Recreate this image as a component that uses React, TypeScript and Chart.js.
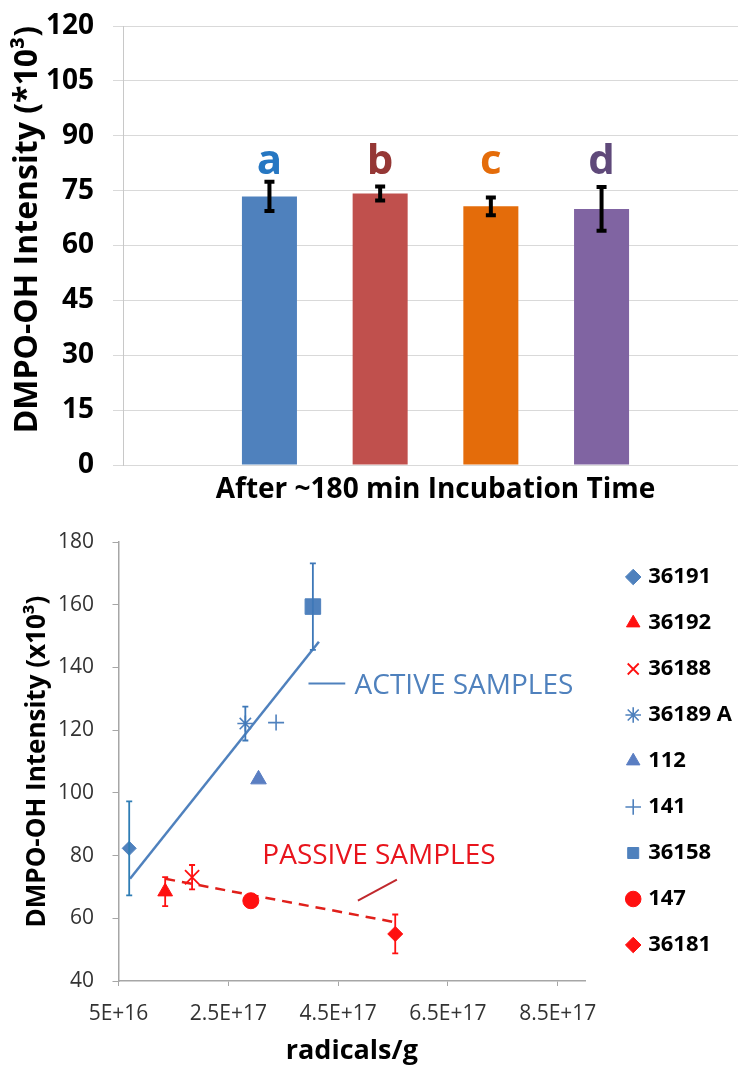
import React, { useEffect, useRef } from 'react';
import { Chart, registerables } from 'chart.js';

Chart.register(...registerables);
Chart.defaults.font.family = '"Open Sans", "DejaVu Sans", sans-serif';

// ---------- Top chart data ----------
const CATEGORY = ['After ~180 min Incubation Time'];
const GROUP_LETTERS = ['a', 'b', 'c', 'd'];
const BAR_VALUES = [73.4, 74.2, 70.7, 70.0];
const BAR_ERRORS = [4.0, 1.9, 2.4, 6.0];
const LETTER_LEVEL = 79.5;
const TOP_Y_MIN = 0;
const TOP_Y_MAX = 120;
const TOP_Y_STEP = 15;

const BAR_COLORS = ['#4F81BD', '#C0504D', '#E46C0A', '#8064A2'];
const LETTER_COLORS = ['#2677C2', '#953735', '#E46C0A', '#5F497A'];

// ---------- Bottom chart data ----------
const SAMPLE_NAMES = ['36191', '36192', '36188', '36189 A', '112', '141', '36158', '147', '36181'];
const SAMPLE_X = [6.95e16, 1.35e17, 1.84e17, 2.81e17, 3.05e17, 3.37e17, 4.04e17, 2.91e17, 5.54e17];
const SAMPLE_Y = [82.3, 68.5, 73.1, 122.1, 104.3, 122.4, 159.4, 65.6, 55.0];
const SAMPLE_ERR = [15.0, 4.6, 3.9, 5.4, 0, 0, 13.8, 0, 6.2];

const ACTIVE_TREND_X = [7.1e16, 4.15e17];
const ACTIVE_TREND_Y = [72.6, 148.2];
const PASSIVE_TREND_X = [1.35e17, 5.55e17];
const PASSIVE_TREND_Y = [72.6, 58.7];

const X_MIN = 5e16;
const X_MAX = 9e17;
const X_TICKS = [5e16, 2.5e17, 4.5e17, 6.5e17, 8.5e17];
const X_TICK_LABELS = ['5E+16', '2.5E+17', '4.5E+17', '6.5E+17', '8.5E+17'];
const Y_MIN = 40;
const Y_MAX = 180;
const Y_STEP = 20;

const ACTIVE_LABEL = { text: 'ACTIVE SAMPLES', x: 4.8e17, y: 134.1 };
const PASSIVE_LABEL = { text: 'PASSIVE SAMPLES', x: 3.12e17, y: 80 };
const ACTIVE_LEADER_X = [3.96e17, 4.63e17];
const ACTIVE_LEADER_Y = [134.9, 134.9];
const PASSIVE_LEADER_X = [5.57e17, 4.86e17];
const PASSIVE_LEADER_Y = [72.3, 65.6];

// styles
const BLUE = '#4F81BD';
const RED = '#FF1010';
const MARKER_STYLES = ['rectRot', 'triangle', 'crossRot', 'star', 'triangle', 'cross', 'rect', 'circle', 'rectRot'];
const MARKER_COLORS = [BLUE, RED, RED, BLUE, '#5A7EC2', BLUE, BLUE, RED, RED];
const MARKER_RADII = [7, 8.5, 10, 8, 9, 8, 11, 8, 7.5];
const MARKER_BORDER = [1, 1, 1.8, 1.6, 1, 1.6, 1, 1, 1];
const ERR_COLORS = ['#2F7DB5', RED, RED, '#3E78B8', BLUE, BLUE, '#3E78B8', RED, RED];

const FONT = '"Open Sans", "DejaVu Sans", sans-serif';

const topErrorPlugin = {
  id: 'topErrors',
  afterDatasetsDraw(chart: any) {
    const { ctx } = chart;
    const ys = chart.scales.y;
    ctx.save();
    ctx.strokeStyle = '#000';
    ctx.lineWidth = 4;
    ctx.lineCap = 'butt';
    BAR_VALUES.forEach((v, i) => {
      const el = chart.getDatasetMeta(i).data[0];
      if (!el) return;
      const x = el.x;
      const yt = ys.getPixelForValue(v + BAR_ERRORS[i]);
      const yb = ys.getPixelForValue(v - BAR_ERRORS[i]);
      ctx.beginPath();
      ctx.moveTo(x, yt);
      ctx.lineTo(x, yb);
      ctx.moveTo(x - 5, yt);
      ctx.lineTo(x + 5, yt);
      ctx.moveTo(x - 5, yb);
      ctx.lineTo(x + 5, yb);
      ctx.stroke();
    });
    ctx.restore();
    // letters
    const ly = ys.getPixelForValue(LETTER_LEVEL);
    ctx.save();
    ctx.font = `bold 42px ${FONT}`;
    ctx.textAlign = 'center';
    ctx.textBaseline = 'alphabetic';
    GROUP_LETTERS.forEach((g, i) => {
      const el = chart.getDatasetMeta(i).data[0];
      if (!el) return;
      ctx.fillStyle = LETTER_COLORS[i];
      ctx.fillText(g, el.x, ly);
    });
    ctx.restore();
  },
};

const bottomErrorPlugin = {
  id: 'bottomErrors',
  afterDatasetsDraw(chart: any) {
    const { ctx } = chart;
    const ys = chart.scales.y;
    ctx.save();
    ctx.lineWidth = 1.8;
    SAMPLE_NAMES.forEach((_, i) => {
      const e = SAMPLE_ERR[i];
      if (!e) return;
      const el = chart.getDatasetMeta(i).data[0];
      if (!el) return;
      const x = el.x;
      const yt = ys.getPixelForValue(SAMPLE_Y[i] + e);
      const yb = ys.getPixelForValue(SAMPLE_Y[i] - e);
      ctx.strokeStyle = ERR_COLORS[i];
      ctx.beginPath();
      ctx.moveTo(x, yt);
      ctx.lineTo(x, yb);
      ctx.moveTo(x - 3, yt);
      ctx.lineTo(x + 3, yt);
      ctx.moveTo(x - 3, yb);
      ctx.lineTo(x + 3, yb);
      ctx.stroke();
    });
    ctx.restore();
  },
  afterDraw(chart: any) {
    const { ctx } = chart;
    const xs = chart.scales.x;
    const ys = chart.scales.y;
    ctx.save();
    // leaders
    ctx.lineWidth = 2;
    ctx.strokeStyle = BLUE;
    ctx.beginPath();
    ctx.moveTo(xs.getPixelForValue(ACTIVE_LEADER_X[0]), ys.getPixelForValue(ACTIVE_LEADER_Y[0]));
    ctx.lineTo(xs.getPixelForValue(ACTIVE_LEADER_X[1]), ys.getPixelForValue(ACTIVE_LEADER_Y[1]));
    ctx.stroke();
    ctx.strokeStyle = '#C0282D';
    ctx.beginPath();
    ctx.moveTo(xs.getPixelForValue(PASSIVE_LEADER_X[0]), ys.getPixelForValue(PASSIVE_LEADER_Y[0]));
    ctx.lineTo(xs.getPixelForValue(PASSIVE_LEADER_X[1]), ys.getPixelForValue(PASSIVE_LEADER_Y[1]));
    ctx.stroke();
    // labels
    ctx.font = `28px ${FONT}`;
    ctx.textAlign = 'left';
    ctx.textBaseline = 'middle';
    ctx.fillStyle = BLUE;
    ctx.fillText(ACTIVE_LABEL.text, xs.getPixelForValue(ACTIVE_LABEL.x), ys.getPixelForValue(ACTIVE_LABEL.y));
    ctx.fillStyle = '#E8141C';
    ctx.fillText(PASSIVE_LABEL.text, xs.getPixelForValue(PASSIVE_LABEL.x), ys.getPixelForValue(PASSIVE_LABEL.y));
    ctx.restore();
  },
};

export default function App() {
  const topRef = useRef<HTMLCanvasElement | null>(null);
  const botRef = useRef<HTMLCanvasElement | null>(null);

  useEffect(() => {
    const top = new Chart(topRef.current as HTMLCanvasElement, {
      type: 'bar',
      data: {
        labels: CATEGORY,
        datasets: GROUP_LETTERS.map((g, i) => ({
          label: g,
          data: [BAR_VALUES[i]],
          backgroundColor: BAR_COLORS[i],
          borderWidth: 0,
          categoryPercentage: 0.7085,
          barPercentage: 0.497,
        })),
      },
      options: {
        responsive: false,
        animation: false,
        events: [],
        layout: { padding: { top: 26, right: 2, left: 0, bottom: 0 } },
        plugins: { legend: { display: false }, tooltip: { enabled: false } },
        scales: {
          x: {
            grid: { display: false, drawTicks: false },
            border: { display: false },
            ticks: { font: { size: 28, weight: 'bold' }, color: '#000', padding: 8 },
            afterFit: (s: any) => { s.height = 53; },
          },
          y: {
            min: TOP_Y_MIN,
            max: TOP_Y_MAX,
            ticks: { stepSize: TOP_Y_STEP, font: { size: 28, weight: 'bold' }, color: '#000', padding: 19 },
            grid: { color: '#D9D9D9', tickLength: 10, lineWidth: 1 },
            border: { color: '#C8C8C8' },
            title: {
              display: true,
              text: 'DMPO-OH Intensity (*10³)',
              align: 'end',
              font: { size: 32, weight: 'bold' },
              color: '#000',
              padding: { top: 9, bottom: 0 },
            },
            afterFit: (s: any) => {
              s.width = 123;
              s.paddingTop = 0;
              s.paddingBottom = 0;
            },
          },
        },
      } as any,
      plugins: [topErrorPlugin],
    });

    const scatterSets: any[] = SAMPLE_NAMES.map((name, i) => ({
      type: 'scatter',
      label: name,
      data: [{ x: SAMPLE_X[i], y: SAMPLE_Y[i] }],
      pointStyle: MARKER_STYLES[i],
      pointRadius: MARKER_RADII[i],
      pointHoverRadius: MARKER_RADII[i],
      backgroundColor: MARKER_COLORS[i],
      borderColor: MARKER_COLORS[i],
      borderWidth: MARKER_BORDER[i],
      order: 0,
    }));
    const trendSets: any[] = [
      {
        type: 'line',
        label: 'trend-active',
        data: ACTIVE_TREND_X.map((x, i) => ({ x, y: ACTIVE_TREND_Y[i] })),
        borderColor: BLUE,
        borderWidth: 2.5,
        pointRadius: 0,
        fill: false,
        order: 1,
      },
      {
        type: 'line',
        label: 'trend-passive',
        data: PASSIVE_TREND_X.map((x, i) => ({ x, y: PASSIVE_TREND_Y[i] })),
        borderColor: '#E0201B',
        borderWidth: 2.5,
        borderDash: [10, 7],
        pointRadius: 0,
        fill: false,
        order: 1,
      },
    ];

    const bottom = new Chart(botRef.current as HTMLCanvasElement, {
      type: 'scatter',
      data: { datasets: [...scatterSets, ...trendSets] },
      options: {
        responsive: false,
        animation: false,
        events: [],
        layout: { padding: { top: 22, right: 0, left: 0, bottom: 0 } },
        plugins: {
          tooltip: { enabled: false },
          legend: {
            position: 'right',
            align: 'start',
            maxWidth: 220,
            labels: {
              usePointStyle: true,
              boxWidth: 8,
              boxHeight: 11,
              padding: 24,
              font: { size: 22, weight: 'bold' },
              color: '#000',
              filter: (item: any) => !String(item.text).startsWith('trend'),
            },
          },
        },
        scales: {
          x: {
            type: 'linear',
            min: X_MIN,
            max: X_MAX,
            afterBuildTicks: (s: any) => { s.ticks = X_TICKS.map((v) => ({ value: v })); },
            ticks: {
              callback: (v: any) => {
                const k = X_TICKS.indexOf(Number(v));
                return k >= 0 ? X_TICK_LABELS[k] : '';
              },
              font: { size: 21 },
              color: '#333',
              padding: 15,
              maxRotation: 0,
              autoSkip: false,
            },
            grid: { display: true, drawOnChartArea: false, drawTicks: true, tickLength: 5, color: '#A6A6A6' },
            border: { color: '#A6A6A6', width: 1.5 },
            title: {
              display: true,
              text: 'radicals/g',
              font: { size: 27, weight: 'bold' },
              color: '#000',
              padding: { top: 0, bottom: 0 },
            },
            afterFit: (s: any) => { s.height = 87; },
          },
          y: {
            min: Y_MIN,
            max: Y_MAX,
            ticks: { stepSize: Y_STEP, font: { size: 21 }, color: '#333', padding: 18.5 },
            grid: { display: true, drawOnChartArea: false, drawTicks: true, tickLength: 6, color: '#A6A6A6' },
            border: { color: '#A6A6A6', width: 1.5 },
            title: {
              display: true,
              text: 'DMPO-OH Intensity (x10³)',
              font: { size: 26, weight: 'bold' },
              color: '#000',
              padding: { top: 22, bottom: 0 },
            },
            afterFit: (s: any) => {
              s.width = 118.5;
              s.paddingTop = 0;
              s.paddingBottom = 0;
            },
          },
          gap: {
            type: 'linear',
            position: 'right',
            display: true,
            grid: { display: false, drawTicks: false },
            border: { display: false },
            ticks: { display: false },
            afterFit: (s: any) => {
              s.width = 20;
              s.paddingTop = 0;
              s.paddingBottom = 0;
            },
          },
        },
      } as any,
      plugins: [bottomErrorPlugin],
    });

    return () => {
      top.destroy();
      bottom.destroy();
    };
  }, []);

  return (
    <div
      style={{
        position: 'fixed',
        left: 0,
        top: 0,
        width: 738,
        height: 1068,
        overflow: 'hidden',
        background: '#fff',
      }}
    >
      <canvas ref={topRef} width={750} height={518} style={{ position: 'absolute', left: 0, top: 0 }} />
      <canvas ref={botRef} width={742} height={548} style={{ position: 'absolute', left: 0, top: 520 }} />
    </div>
  );
}
